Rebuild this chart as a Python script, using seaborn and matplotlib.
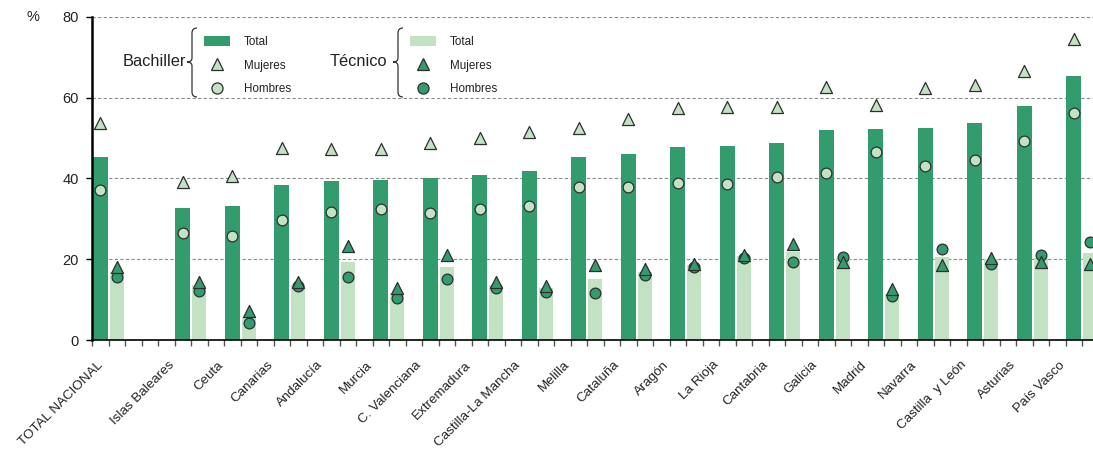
import numpy as np
import pandas as pd
import matplotlib
matplotlib.use("Agg")
import matplotlib.pyplot as plt
import matplotlib.transforms as mtransforms
import seaborn as sns
from matplotlib.patches import Patch, PathPatch
from matplotlib.lines import Line2D
from matplotlib.path import Path

# Data (%)
regions = ["TOTAL NACIONAL", "Islas Baleares", "Ceuta", "Canarias", "Andalucía",
           "Murcia", "C. Valenciana", "Extremadura", "Castilla-La Mancha", "Melilla",
           "Cataluña", "Aragón", "La Rioja", "Cantabria", "Galicia", "Madrid",
           "Navarra", "Castilla  y León", "Asturias", "País Vasco"]
bach_total = [45.4, 32.6, 33.2, 38.4, 39.4, 39.6, 40.1, 40.9, 41.9, 45.4,
              46.1, 47.8, 48.0, 48.8, 52.0, 52.3, 52.5, 53.7, 58.0, 65.4]
bach_mujeres = [53.8, 39.1, 40.6, 47.6, 47.2, 47.2, 48.9, 50.1, 51.4, 52.4,
                54.7, 57.4, 57.6, 57.6, 62.7, 58.1, 62.5, 63.2, 66.7, 74.6]
bach_hombres = [37.2, 26.6, 25.8, 29.6, 31.7, 32.5, 31.5, 32.5, 33.2, 38.0,
                37.8, 38.8, 38.6, 40.3, 41.3, 46.6, 43.1, 44.7, 49.4, 56.3]
tec_total = [16.9, 13.6, 5.8, 13.6, 19.4, 11.7, 18.0, 13.5, 12.8, 15.1,
             16.9, 18.6, 20.8, 21.9, 20.2, 11.4, 20.6, 20.0, 20.4, 21.6]
tec_mujeres = [18.0, 14.4, 7.3, 14.3, 23.3, 13.0, 21.0, 14.3, 13.3, 18.6,
               17.6, 18.7, 21.0, 23.9, 19.2, 12.6, 18.6, 20.2, 19.4, 18.8]
tec_hombres = [15.5, 12.2, 4.1, 13.4, 15.6, 10.3, 15.0, 13.0, 12.0, 11.7,
               16.1, 18.2, 20.2, 19.4, 20.5, 10.9, 22.5, 18.8, 21.0, 24.2]

DARK = "#339C6F"
LIGHT = "#C3E2C3"
EDGE = "#2E2E2E"
TEXT = "#222222"

sns.set_style("white")
plt.rcParams["font.family"] = ["Liberation Sans", "DejaVu Sans"]

W, H = 1093, 453
fig = plt.figure(figsize=(W / 100, H / 100), dpi=100)
ax = fig.add_axes([92 / W, 1 - 340 / H, 1 - 92 / W, (340 - 17) / H])

# slot layout: national total first, then an empty gap, then 3 slots per region
n = len(regions)
x_dark = np.array([0] + [2 + 3 * i for i in range(1, n)], dtype=float)
x_light = x_dark + 1

df = pd.DataFrame({"region": regions, "x_dark": x_dark, "x_light": x_light,
                   "bach_total": bach_total, "bach_mujeres": bach_mujeres,
                   "bach_hombres": bach_hombres, "tec_total": tec_total,
                   "tec_mujeres": tec_mujeres, "tec_hombres": tec_hombres})

# bars (native scale: width is relative to the 3-slot spacing)
sns.barplot(data=df, x="x_dark", y="bach_total", native_scale=True, width=0.88 / 3,
            color=DARK, saturation=1, linewidth=0, errorbar=None, ax=ax, zorder=2)
sns.barplot(data=df, x="x_light", y="tec_total", native_scale=True, width=0.82 / 3,
            color=LIGHT, saturation=1, linewidth=0, errorbar=None, ax=ax, zorder=2)

# markers
mk = dict(edgecolor=EDGE, linewidth=0.9, legend=False, ax=ax, zorder=4)
sns.scatterplot(data=df, x="x_dark", y="bach_hombres", marker="o", s=60, color=LIGHT, **mk)
sns.scatterplot(data=df, x="x_dark", y="bach_mujeres", marker="^", s=75, color=LIGHT, **mk)
sns.scatterplot(data=df, x="x_light", y="tec_hombres", marker="o", s=60, color=DARK, **mk)
sns.scatterplot(data=df, x="x_light", y="tec_mujeres", marker="^", s=75, color=DARK, **mk)

# axes
ax.set_xlabel("")
ax.set_ylabel("")
ax.set_yticks([0, 20, 40, 60, 80])
ax.yaxis.grid(True, linestyle=(0, (3, 2)), color="#8c8c8c", linewidth=0.8)
ax.xaxis.grid(False)
ax.set_axisbelow(True)
for s in ["top", "right"]:
    ax.spines[s].set_visible(False)
ax.spines["left"].set_linewidth(1.8)
ax.spines["left"].set_color("black")
ax.spines["bottom"].set_linewidth(1.2)
ax.spines["bottom"].set_color("black")
ax.tick_params(axis="y", left=True, direction="out", length=4, width=1, color="black",
               labelsize=10.5, pad=5.5, labelcolor=TEXT)

bounds = np.arange(0, x_light.max() + 3) - 0.5
ax.set_xticks(bounds, labels=[""] * len(bounds))
ax.tick_params(axis="x", bottom=True, direction="out", length=4, width=1, color="#555555")

# limits after the ticks (set_xticks widens the view)
ax.set_ylim(0, 80)
ax.set_xlim(-0.5, -0.5 + (W - 92) / 16.5)

# category labels
lbl_tr = mtransforms.offset_copy(ax.get_xaxis_transform(), fig=fig, y=-19, units="dots")
for xd, name in zip(x_dark, regions):
    ax.text(xd - 0.9 if xd > 0 else xd - 0.2, 0, name, transform=lbl_tr, rotation=45,
            rotation_mode="anchor", ha="right", va="top", fontsize=9.6, color=TEXT,
            clip_on=False)

fig.text(33 / W, 1 - 17 / H, "%", ha="center", va="center", fontsize=10.5, color=TEXT)

# legends
def handles(bar_c, mark_c):
    return [Patch(facecolor=bar_c, edgecolor="none", label="Total"),
            Line2D([], [], ls="none", marker="^", ms=9, mfc=mark_c, mec=EDGE, mew=0.9,
                   label="Mujeres"),
            Line2D([], [], ls="none", marker="o", ms=8, mfc=mark_c, mec=EDGE, mew=0.9,
                   label="Hombres")]

leg_kw = dict(loc="upper left", frameon=False, fontsize=8.4, handlelength=2.2,
              handleheight=0.9, handletextpad=1.2, labelspacing=1.0, borderpad=0,
              borderaxespad=0, bbox_transform=fig.transFigure, labelcolor=TEXT)
leg1 = ax.legend(handles=handles(DARK, LIGHT), bbox_to_anchor=(204 / W, 1 - 36 / H), **leg_kw)
ax.add_artist(leg1)
ax.legend(handles=handles(LIGHT, DARK), bbox_to_anchor=(410 / W, 1 - 36 / H), **leg_kw)


def brace(x_tip, top, bottom, mid):
    xv, xr = x_tip + 5, x_tip + 10
    pts = [(xr, top), (xv, top), (xv, top + 5), (xv, mid - 4), (xv, mid), (x_tip, mid),
           (xv, mid), (xv, mid + 4), (xv, bottom - 5), (xv, bottom), (xr, bottom)]
    codes = [Path.MOVETO, Path.CURVE3, Path.CURVE3, Path.LINETO, Path.CURVE3, Path.CURVE3,
             Path.CURVE3, Path.CURVE3, Path.LINETO, Path.CURVE3, Path.CURVE3]
    verts = [(x / W, 1 - y / H) for x, y in pts]
    fig.add_artist(PathPatch(Path(verts, codes), fill=False, lw=0.9, ec="#333333",
                             transform=fig.transFigure))


brace(187, 28, 97, 62)
brace(393, 28, 97, 62)
fig.text(186 / W, 1 - 62 / H, "Bachiller", ha="right", va="center", fontsize=11.8, color=TEXT)
fig.text(387 / W, 1 - 62 / H, "Técnico", ha="right", va="center", fontsize=11.8, color=TEXT)

fig.savefig("out.png", dpi=100)
